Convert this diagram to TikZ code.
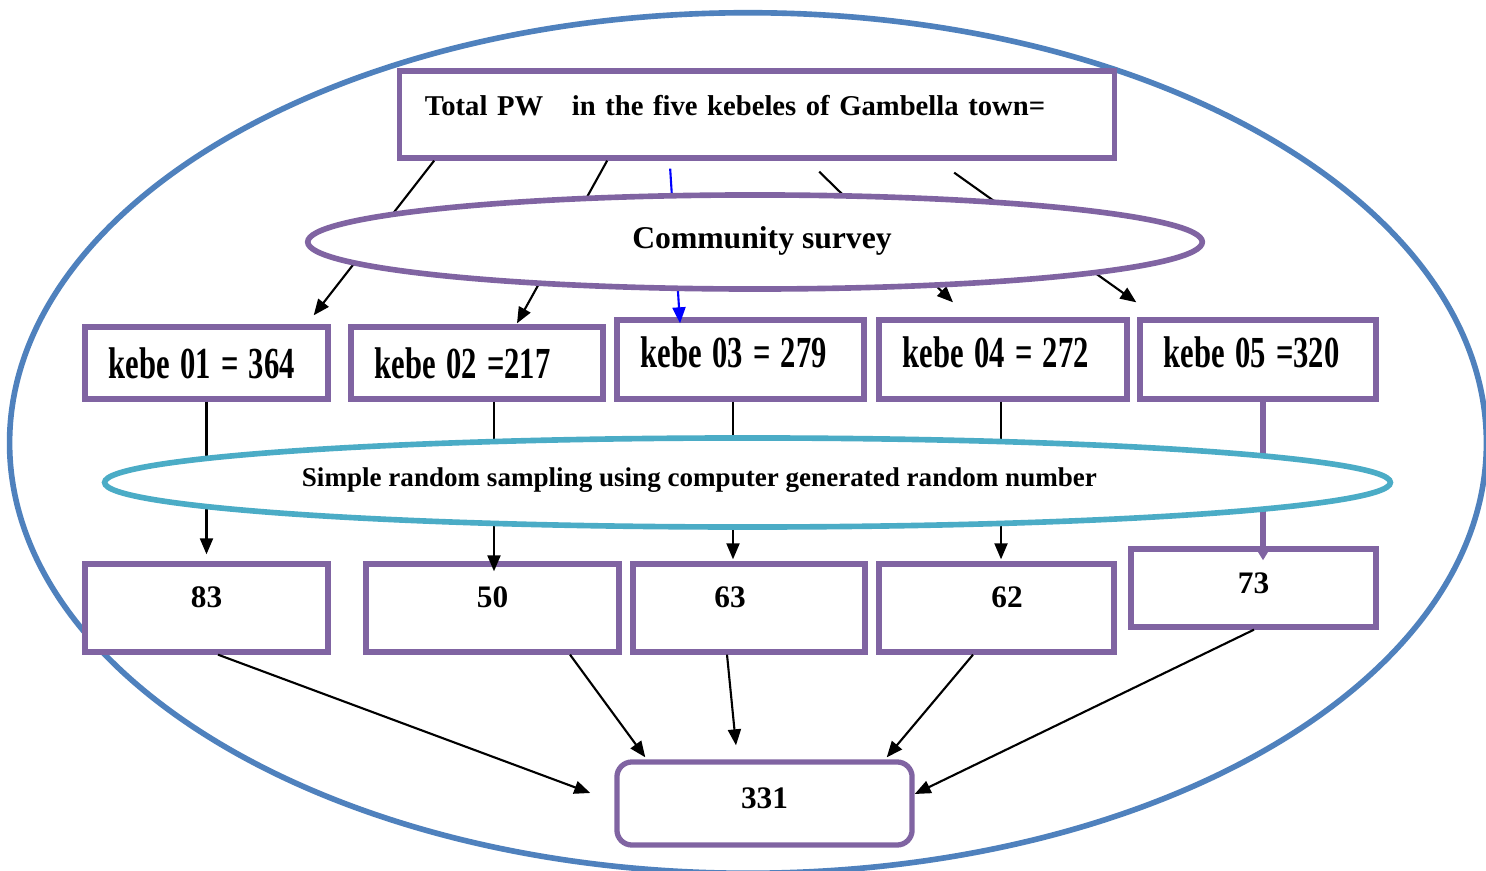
\documentclass[tikz,border=0pt]{standalone}
\usepackage{fontspec}
\setmainfont{Liberation Serif}
\usepackage{graphicx}
\usetikzlibrary{arrows.meta,positioning,shapes.geometric,calc}
\definecolor{boxpurple}{HTML}{8064A2}
\definecolor{ringblue}{HTML}{4F81BD}
\definecolor{sampleteal}{HTML}{4BACC6}
\newcommand{\kebetext}[1]{\scalebox{1}[1.45]{#1}}

\begin{document}
\begin{tikzpicture}[
  x=0.01cm, y=-0.01cm,
  >={Triangle[length=0.16cm,width=0.13cm]},
  totalbox/.style={
    draw=boxpurple,
    fill=white,
    line width=1.5pt,
    minimum width=7.14cm,
    minimum height=0.87cm,
    text width=6.64cm,
    inner sep=0pt,
    align=left,
    font=\fontsize{8.15pt}{10pt}\selectfont\bfseries
  },
  kebebox/.style={
    draw=boxpurple,
    fill=white,
    line width=1.5pt,
    text width=#1,
    inner xsep=0.24cm,
    inner ysep=0pt,
    align=left,
    font=\fontsize{8.7pt}{11pt}\selectfont\bfseries
  },
  countbox/.style={
    draw=boxpurple,
    fill=white,
    line width=1.5pt,
    inner sep=0pt,
    font=\fontsize{8.9pt}{11pt}\selectfont\bfseries
  },
  stagering/.style={
    ellipse,
    fill=white,
    line width=1.6pt,
    inner sep=0pt
  },
  flowarrow/.style={
    ->,
    line width=0.6pt,
    draw=black
  }
]

  \useasboundingbox (0,0) rectangle (1486,871);
  \fill[white] (0,0) rectangle (1486,871);

  % Outer frame round the whole procedure
  \node[ellipse, draw=ringblue, line width=1.6pt, inner sep=0pt,
        minimum width=14.76cm, minimum height=8.6cm] (townring) at (748,443) {};

  % --- TOP: total in the town ---
  \node[totalbox] (total) at (757,114.5)
    {\raisebox{0.19cm}{Total PW\ \ \ in the five kebeles of Gambella town=}};

  % --- MIDDLE ROW: the five kebeles ---
  \node[kebebox=1.95cm, minimum height=0.72cm] (k1) at (206.5,363) {\kebetext{kebe 01 = 364}};
  \node[kebebox=2.04cm, minimum height=0.72cm] (k2) at (477,363) {\kebetext{kebe 02 =217}};
  \node[kebebox=1.99cm, minimum height=0.79cm] (k3) at (740.5,359.5) {\raisebox{0.14cm}{\kebetext{kebe 03 = 279}}};
  \node[kebebox=2.00cm, minimum height=0.79cm] (k4) at (1003,359.5) {\raisebox{0.14cm}{\kebetext{kebe 04 = 272}}};
  \node[kebebox=1.88cm, minimum height=0.79cm] (k5) at (1258,359.5) {\raisebox{0.14cm}{\kebetext{kebe 05 =320}}};

  % --- LOWER ROW: sample per kebele ---
  \node[countbox, minimum width=2.43cm, minimum height=0.88cm] (n1) at (206.5,608) {\raisebox{0.22cm}{83}};
  \node[countbox, minimum width=2.53cm, minimum height=0.88cm] (n2) at (492.5,608) {\raisebox{0.22cm}{50}};
  \node[countbox, minimum width=2.32cm, minimum height=0.88cm] (n3) at (749,608) {\raisebox{0.22cm}{63}\hspace*{0.38cm}};
  \node[countbox, minimum width=2.35cm, minimum height=0.88cm] (n4) at (996.5,608) {\hspace*{0.21cm}\raisebox{0.22cm}{62}};
  \node[countbox, minimum width=2.45cm, minimum height=0.78cm] (n5) at (1253.5,588) {\raisebox{0.10cm}{73}};

  % Total sample
  \node[countbox, rounded corners=0.15cm, minimum width=2.95cm, minimum height=0.83cm] (sample) at (764.5,803.5)
    {\raisebox{0.11cm}{331}};

  % Connecting arrows: total to kebeles
  \draw[flowarrow] ($(total.south west)+(37,0)$) -- ($(k1.north east)+(-17,-9)$);
  \draw[flowarrow] ($(total.south west)+(210,0)$) -- ($(k2.north)+(40,-1)$);
  \draw[flowarrow, draw=blue, -{Triangle[length=0.16cm,width=0.13cm,fill=blue]}]
    ($(total.south west)+(273,8)$) -- ($(k3.north)+(-60.5,6)$);
  \draw[flowarrow] ($(total.south west)+(422,11)$) -- ($(k4.north)+(-50,-15)$);
  \draw[flowarrow] ($(total.south west)+(557,12)$) -- ($(k5.north west)+(-1,-15)$);

  % Connecting arrows: kebeles to samples
  \draw[flowarrow] (k1.south) -- ($(n1.north)+(0,-7)$);
  \draw[flowarrow] ($(k2.south)+(17,0)$) -- ($(n2.north)+(1.5,10)$);
  \draw[flowarrow] ($(k3.south)+(-7.5,0)$) -- ($(n3.north)+(-16,-2)$);
  \draw[flowarrow] ($(k4.south)+(-2,0)$) -- ($(n4.north)+(4.5,-2)$);
  \draw[flowarrow, draw=boxpurple, line width=1.5pt, -{Triangle[length=0.14cm,width=0.16cm]}]
    ($(k5.south)+(5,0)$) -- ($(n5.north)+(9.5,14)$);

  % Connecting arrows: samples to total sample
  \draw[flowarrow] ($(n1.south)+(11.5,0)$) -- ($(sample.west)+(-24,-10.5)$);
  \draw[flowarrow] ($(n2.south)+(77.5,0)$) -- ($(sample.north west)+(31,-2)$);
  \draw[flowarrow] ($(n3.south)+(-22,0)$) -- ($(sample.north)+(-28.5,-14)$);
  \draw[flowarrow] ($(n4.south)+(-23.5,0)$) -- ($(sample.north east)+(-28,-2)$);
  \draw[flowarrow] ($(n5.south)+(0.5,0)$) -- ($(sample.east)+(0,-9.5)$);

  % Stage rings laid over the arrows
  \node[stagering, draw=boxpurple, minimum width=8.94cm, minimum height=0.94cm,
        font=\fontsize{9pt}{11pt}\selectfont\bfseries] (survey) at (755,242)
    {\hspace*{0.14cm}\raisebox{0.08cm}{Community survey}};
  \node[stagering, draw=sampleteal, minimum width=12.85cm, minimum height=0.89cm,
        font=\fontsize{7.7pt}{9pt}\selectfont\bfseries] (srs) at (747.5,482.5)
    {\raisebox{0.11cm}{Simple random sampling using computer generated random number}\hspace*{0.96cm}};

\end{tikzpicture}
\end{document}
